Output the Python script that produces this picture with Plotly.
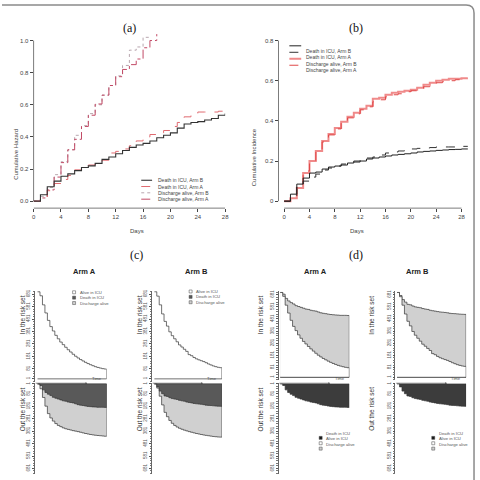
import plotly.graph_objects as go

W = H = 480
SANS = "Liberation Sans, Arial, sans-serif"
SERIF = "Liberation Serif, DejaVu Serif, serif"

# ---------------- data ----------------
days_a = list(range(29))
haz_death_B = [0, 0.04, 0.09, 0.125, 0.155, 0.17, 0.19, 0.21, 0.22, 0.235, 0.26, 0.275, 0.295, 0.315,
               0.335, 0.35, 0.36, 0.375, 0.395, 0.41, 0.425, 0.455, 0.48, 0.49, 0.495, 0.505, 0.515, 0.535, 0.545]
haz_death_A = [0, 0.02, 0.065, 0.11, 0.135, 0.16, 0.195, 0.215, 0.225, 0.235, 0.255, 0.30, 0.31, 0.325,
               0.345, 0.375, 0.40, 0.415, 0.425, 0.44, 0.465, 0.49, 0.525, 0.535, 0.555, 0.555, 0.555, 0.56, 0.575]
haz_disch_B = [0, 0.03, 0.085, 0.165, 0.245, 0.32, 0.41, 0.47, 0.545, 0.60, 0.66, 0.72, 0.78, 0.845,
               0.94, 0.96, 1.02, 1.03]
haz_disch_A = [0, 0.02, 0.07, 0.15, 0.24, 0.32, 0.385, 0.465, 0.535, 0.605, 0.66, 0.72, 0.775, 0.82,
               0.85, 0.885, 0.955, 1.0, 1.04]

days_b = list(range(30))
cif_death_B = [0, 0.035, 0.085, 0.115, 0.14, 0.145, 0.16, 0.17, 0.175, 0.18, 0.19, 0.195, 0.20, 0.21, 0.215,
               0.22, 0.225, 0.23, 0.233, 0.236, 0.24, 0.245, 0.248, 0.25, 0.253, 0.255, 0.257, 0.258, 0.26, 0.26]
cif_death_A = [0, 0.02, 0.07, 0.10, 0.12, 0.135, 0.155, 0.165, 0.175, 0.185, 0.195, 0.20, 0.21, 0.215, 0.22,
               0.23, 0.24, 0.245, 0.25, 0.255, 0.26, 0.263, 0.265, 0.267, 0.27, 0.27, 0.27, 0.272, 0.273, 0.273]
cif_disch_B = [0, 0.015, 0.065, 0.14, 0.20, 0.25, 0.30, 0.335, 0.365, 0.395, 0.42, 0.44, 0.46, 0.475, 0.51,
               0.515, 0.53, 0.54, 0.545, 0.55, 0.555, 0.565, 0.58, 0.59, 0.60, 0.605, 0.61, 0.61, 0.612, 0.612]
cif_disch_A = [0, 0.02, 0.07, 0.15, 0.20, 0.245, 0.295, 0.33, 0.36, 0.39, 0.415, 0.435, 0.455, 0.47, 0.495,
               0.505, 0.52, 0.53, 0.535, 0.545, 0.55, 0.56, 0.57, 0.58, 0.59, 0.595, 0.60, 0.605, 0.61, 0.61]

# risk-set panels (counts per day)
days_r = list(range(29))
n_total = 700
alive_A = [700, 668, 595, 530, 470, 420, 385, 350, 322, 296, 275, 254, 234, 216, 198, 182, 168, 155, 144,
           133, 123, 114, 106, 98, 92, 87, 82, 79, 76]
dead_A = [0, 14, 49, 70, 84, 95, 109, 116, 123, 130, 137, 140, 147, 151, 154, 161, 168, 172, 175, 179, 182,
          184, 186, 187, 189, 189, 189, 190, 191]
out_A = [0, 40, 110, 180, 240, 275, 300, 320, 335, 345, 355, 362, 367, 372, 377, 381, 385, 390, 395, 400,
         404, 408, 411, 414, 416, 418, 420, 422, 423]
alive_B = [700, 665, 595, 522, 462, 424, 378, 347, 322, 298, 273, 256, 238, 221, 195, 186, 172, 161, 153,
           146, 139, 130, 120, 112, 104, 98, 93, 90, 86]
dead_B = [0, 25, 59, 80, 98, 102, 112, 119, 123, 126, 133, 137, 140, 147, 151, 154, 158, 161, 163, 165, 168,
          172, 174, 175, 177, 179, 180, 181, 182]
out_B = [0, 35, 100, 170, 230, 265, 295, 318, 335, 348, 358, 366, 373, 379, 385, 390, 395, 400, 404, 408,
         412, 415, 418, 421, 424, 426, 428, 429, 430]

risk_ticks = [1, 81, 181, 281, 381, 481, 581, 681]
a_xticks = [0, 4, 8, 12, 16, 20, 24, 28]
a_yticks = [0, 0.2, 0.4, 0.6, 0.8, 1.0]
a_ylabels = ["0.0", "0.2", "0.4", "0.6", "0.8", "1.0"]
b_yticks = [0, 0.2, 0.4, 0.6, 0.8]
b_ylabels = ["0", "0.2", "0.4", "0.6", "0.8"]

legend_a = ["Death in ICU, Arm B", "Death in ICU, Arm A", "Discharge alive, Arm B", "Discharge alive, Arm A"]
legend_c = ["Alive in ICU", "Death in ICU", "Discharge alive"]
legend_d = ["Death in ICU", "Alive in ICU", "Discharge alive"]

# ---------------- helpers ----------------
def PX(x): return x / W
def PY(y): return 1 - y / H
def dom_x(a, b): return [a / W, b / W]
def dom_y(top, bottom): return [1 - bottom / H, 1 - top / H]

TXT = "#444444"
fig = go.Figure()
annotations = []
shapes = []

def step(x, y, xa, ya, color, width, dash="solid"):
    fig.add_trace(go.Scatter(x=x, y=y, mode="lines", xaxis=xa, yaxis=ya, showlegend=False,
                             line=dict(color=color, width=width, dash=dash, shape="hv"),
                             hoverinfo="skip"))

# ---------------- panel (a) ----------------
a_styles = [("#333333", 1.1, "solid"), ("#e06a70", 1.0, "dash"), ("#b8a6ae", 1.0, "dot"), ("#c24a66", 1.0, "dashdot")]
step(days_a[:len(haz_disch_B)], haz_disch_B, "x", "y", *a_styles[2])
step(days_a[:len(haz_disch_A)], haz_disch_A, "x", "y", *a_styles[3])
step(days_a, haz_death_A, "x", "y", *a_styles[1])
step(days_a, haz_death_B, "x", "y", *a_styles[0])

# ---------------- panel (b) ----------------
b_styles = [("#222222", 1.0, "solid"), ("#333333", 1.0, "dash"), ("#f08a8a", 2.0, "solid"), ("#e04848", 1.0, "dash")]
step(days_b, cif_disch_B, "x2", "y2", *b_styles[2])
step(days_b, cif_disch_A, "x2", "y2", *b_styles[3])
step(days_b, cif_death_A, "x2", "y2", *b_styles[1])
step(days_b, cif_death_B, "x2", "y2", *b_styles[0])

def std_x(dom, rng, anchor):
    return dict(domain=dom, range=rng, tickvals=a_xticks, ticks="outside", ticklen=3, tickwidth=0.6,
                tickcolor=TXT, tickfont=dict(size=6, color=TXT, family=SANS), showline=False,
                showgrid=False, zeroline=False, anchor=anchor)

def std_y(dom, rng, tv, tt, anchor):
    return dict(domain=dom, range=rng, tickvals=tv, ticktext=tt, ticks="outside", ticklen=3, tickwidth=0.6,
                tickcolor=TXT, tickfont=dict(size=6, color=TXT, family=SANS), showline=False,
                showgrid=False, zeroline=False, anchor=anchor)

layout_axes = {}
layout_axes["xaxis"] = std_x(dom_x(32, 226), [0, 28], "y")
layout_axes["yaxis"] = std_y(dom_y(32, 207), [-0.0434, 1.0415], a_yticks, a_ylabels, "x")
layout_axes["xaxis2"] = std_x(dom_x(280, 478), [-0.889, 29.98], "y2")
layout_axes["yaxis2"] = std_y(dom_y(32, 207), [-0.0347, 0.8333], b_yticks, b_ylabels, "x2")

# R-style axis lines
for xr, yr, xmax, ymax in [("x", "y", 28, 1.0), ("x2", "y2", 28, 0.8)]:
    shapes.append(dict(type="line", xref=xr + " domain", yref=yr, x0=0, x1=0, y0=0, y1=ymax,
                       line=dict(color=TXT, width=0.7)))
    shapes.append(dict(type="line", xref=xr, yref=yr + " domain", x0=0, x1=xmax, y0=0, y1=0,
                       line=dict(color=TXT, width=0.7)))

# titles / labels (a),(b)
annotations += [
    dict(x=PX(120), y=PY(17), text="(a)", font=dict(size=12, family=SERIF, color="#111")),
    dict(x=PX(368), y=PY(17), text="(b)", font=dict(size=12, family=SERIF, color="#111")),
    dict(x=PX(128), y=PY(230), text="Days", font=dict(size=6, family=SANS, color=TXT)),
    dict(x=PX(369), y=PY(230), text="Days", font=dict(size=6, family=SANS, color=TXT)),
    dict(x=PX(9), y=PY(125), text="Cumulative Hazard", textangle=-90, font=dict(size=6, family=SANS, color=TXT)),
    dict(x=PX(256), y=PY(125), text="Cumulative Incidence", textangle=-90, font=dict(size=6, family=SANS, color=TXT)),
]

# legends (a), (b)
def line_legend(x0, x1, xt, ys, styles, labels):
    for (c, w, d), lab, yy in zip(styles, labels, ys):
        shapes.append(dict(type="line", xref="paper", yref="paper", x0=PX(x0), x1=PX(x1), y0=PY(yy), y1=PY(yy),
                           line=dict(color=c, width=w, dash=d)))
        annotations.append(dict(x=PX(xt), y=PY(yy), text=lab, xanchor="left",
                                font=dict(size=5, family=SANS, color=TXT)))

line_legend(141, 152, 156, [179, 185.3, 191.6, 198], a_styles, legend_a)
line_legend(291, 303, 306, [44, 50.5, 57, 63.5], b_styles, legend_a)

# ---------------- panels (c), (d) ----------------
panels = [
    ("c", alive_A, dead_A, out_A, 33.3, 106.0, 290, 381.7, [-1.07, 28], 73, 291.5),
    ("c", alive_B, dead_B, out_B, 151.7, 222.7, 290, 381.7, [-1.07, 28], 191, 290.7),
    ("d", alive_A, dead_A, out_A, 280.0, 351.7, 290.7, 380, [-0.7, 28], 322.7, 437.7),
    ("d", alive_B, dead_B, out_B, 398.3, 470.0, 290.7, 380, [-0.7, 28], 436.7, 437.7),
]

LIGHT = "#d0d0d0"
EDGE = "#333333"

def poly(vals, xa, ya, fill):
    xs = days_r + [days_r[-1], days_r[0]]
    ys = list(vals) + [0, 0]
    fig.add_trace(go.Scatter(x=xs, y=ys, mode="lines", fill="toself", fillcolor=fill, xaxis=xa, yaxis=ya,
                             line=dict(color=EDGE, width=0.7, shape="hv"), showlegend=False, hoverinfo="skip"))

def risk_y(dom, rng, anchor):
    return dict(domain=dom, range=rng, tickvals=risk_ticks, ticktext=[str(t) for t in risk_ticks],
                tickangle=-90, ticks="outside", ticklen=2, tickwidth=0.5, tickcolor="#555",
                tickfont=dict(size=4.5, color="#555", family=SANS),
                minor=dict(dtick=20, tick0=1, ticks="outside", ticklen=1.5, tickwidth=0.4, tickcolor="#777"),
                showline=True, linecolor="#666", linewidth=0.6, showgrid=False, zeroline=False, anchor=anchor)

def risk_x(dom, rng, anchor):
    return dict(domain=dom, range=rng, showline=False, showticklabels=False, ticks="", showgrid=False,
                zeroline=False, anchor=anchor)

for i, (kind, alive, dead, out, xl, xr, yt, yb, xrng, legx, legy) in enumerate(panels):
    iu, il = 3 + 2 * i, 4 + 2 * i
    xu, yu, xlo, ylo = f"x{iu}", f"y{iu}", f"x{il}", f"y{il}"
    layout_axes[f"xaxis{iu}"] = risk_x(dom_x(xl, xr), xrng, yu)
    layout_axes[f"yaxis{iu}"] = risk_y(dom_y(yt, yb), [-26, 708], xu)
    layout_axes[f"xaxis{il}"] = risk_x(dom_x(xl, xr), xrng, ylo)
    layout_axes[f"yaxis{il}"] = risk_y(dom_y(383, 474), [726, -3], xlo)

    if kind == "c":
        poly(alive, xu, yu, "white")
        poly(out, xlo, ylo, LIGHT)
        poly(dead, xlo, ylo, "#595959")
        fills = ["white", "#595959", LIGHT]
        labels = legend_c
    else:
        poly([n_total - d for d in dead], xu, yu, LIGHT)
        poly(alive, xu, yu, "white")
        poly(dead, xlo, ylo, "#3c3c3c")
        fills = ["#1a1a1a", "white", LIGHT]
        labels = legend_d

    # legend
    for j, (fc, lab) in enumerate(zip(fills, labels)):
        yy = legy + j * 5.4
        shapes.append(dict(type="rect", xref="paper", yref="paper", x0=PX(legx - 1.5), x1=PX(legx + 1.5),
                           y0=PY(yy + 1.5), y1=PY(yy - 1.5), fillcolor=fc, line=dict(color="#444", width=0.5)))
        annotations.append(dict(x=PX(legx + 3.5), y=PY(yy), text=lab, xanchor="left",
                                font=dict(size=4.2, family=SANS, color="#555")))

    # Time arrow
    head = xl + 0.73 * (xr - xl)
    annotations.append(dict(x=PX(head), y=PY(382.8), ax=-(head - xl), ay=0, text="", showarrow=True,
                            arrowhead=2, arrowsize=0.6, arrowwidth=0.6, arrowcolor="#444"))
    annotations.append(dict(x=PX(head + 2.5), y=PY(383), text="Time", xanchor="left",
                            font=dict(size=4.2, family=SANS, color="#555")))

    # axis titles
    lx = xl - 18.5
    annotations.append(dict(x=PX(lx), y=PY(336), text="In the risk set", textangle=-90,
                            font=dict(size=6.5, family=SANS, color="#333")))
    annotations.append(dict(x=PX(lx), y=PY(433), text="Out the risk set", textangle=-90,
                            font=dict(size=6.5, family=SANS, color="#333")))

# panel titles (c),(d) and arm titles
annotations += [
    dict(x=PX(128), y=PY(254), text="(c)", font=dict(size=12, family=SERIF, color="#111")),
    dict(x=PX(368), y=PY(254), text="(d)", font=dict(size=12, family=SERIF, color="#111")),
    dict(x=PX(70), y=PY(271), text="<b>Arm A</b>", font=dict(size=7.5, family=SANS, color="#222")),
    dict(x=PX(197), y=PY(271), text="<b>Arm B</b>", font=dict(size=7.5, family=SANS, color="#222")),
    dict(x=PX(317), y=PY(271), text="<b>Arm A</b>", font=dict(size=7.5, family=SANS, color="#222")),
    dict(x=PX(434), y=PY(271), text="<b>Arm B</b>", font=dict(size=7.5, family=SANS, color="#222")),
]

for a in annotations:
    a.setdefault("xref", "paper")
    a.setdefault("yref", "paper")
    a.setdefault("showarrow", False)

# outer border (rounded top-right corner)
shapes.append(dict(type="path", xref="paper", yref="paper",
                   path=f"M 0,{PY(3)} L {PX(470)},{PY(3)} Q {PX(478)},{PY(3)} {PX(478)},{PY(11)} L {PX(478)},0",
                   line=dict(color="#8a8a8a", width=1.5)))

fig.update_layout(width=W, height=H, margin=dict(l=0, r=0, t=0, b=0), paper_bgcolor="white",
                  plot_bgcolor="rgba(0,0,0,0)", showlegend=False, annotations=annotations, shapes=shapes,
                  **layout_axes)

fig.write_html("out.html")
